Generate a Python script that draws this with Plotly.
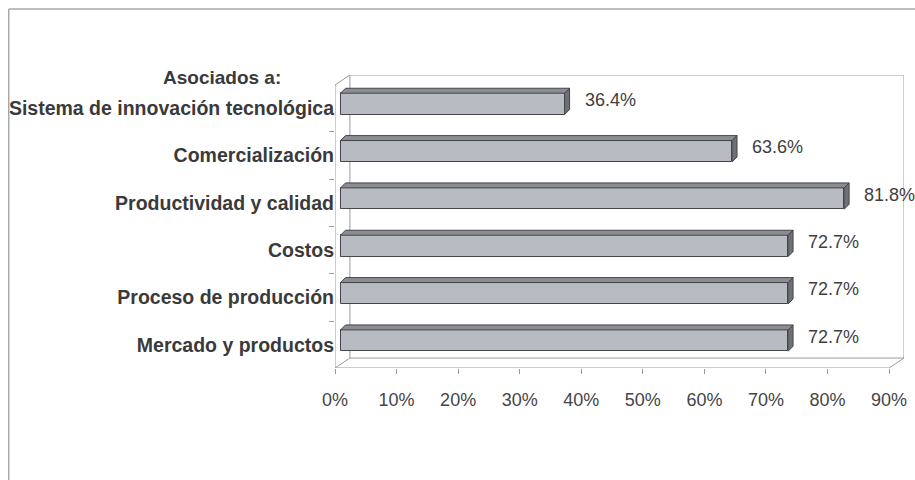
import plotly.graph_objects as go

# ---- data (bottom to top) ----
categories = ["Mercado y productos", "Proceso de producción", "Costos",
              "Productividad y calidad", "Comercialización",
              "Sistema de innovación tecnológica"]
values = [72.7, 72.7, 72.7, 81.8, 63.6, 36.4]
value_labels = ["72.7%", "72.7%", "72.7%", "81.8%", "63.6%", "36.4%"]
x_tick_vals = [0, 10, 20, 30, 40, 50, 60, 70, 80, 90]
x_tick_text = ["0%", "10%", "20%", "30%", "40%", "50%", "60%", "70%", "80%", "90%"]
axis_title = "Asociados a:"

# ---- style / projection constants ----
X_MAX = 90
WALL_DX = 2.42      # depth offset of back wall (x units)
WALL_DY = 0.21      # depth offset of back wall (y units)
Y_LO, Y_HI = -0.49, 5.70
BAR_DX, BAR_DY = 0.9, 0.09
BAR_H = 0.45
TOP_DX, TOP_DY = 0.8, 0.105
FRONT = "#b8bbc2"
TOP = "#8c8d93"
SIDE = "#6f7076"
EDGE = "#45464c"
WALLC = "#9a9a9a"
TXT = "#3a3a3a"
FONT = "Liberation Sans, Arial, sans-serif"

ypos = list(range(len(categories)))

fig = go.Figure()
fig.add_trace(go.Bar(
    orientation="h", y=[p + BAR_DY for p in ypos], x=values, base=BAR_DX,
    width=BAR_H, marker=dict(color=FRONT, line=dict(color=EDGE, width=1)),
    hoverinfo="skip", showlegend=False))

shapes = []
# walls / floor
shapes.append(dict(type="path", xref="x", yref="y",
                   path=f"M {WALL_DX},{Y_LO+WALL_DY} L {WALL_DX},{Y_HI} L {X_MAX+WALL_DX},{Y_HI} L {X_MAX+WALL_DX},{Y_LO+WALL_DY}",
                   line=dict(color=WALLC, width=1), layer="below"))
shapes.append(dict(type="path", xref="x", yref="y",
                   path=f"M 0,{Y_LO} L {X_MAX},{Y_LO} L {X_MAX+WALL_DX},{Y_LO+WALL_DY} L {WALL_DX},{Y_LO+WALL_DY} Z",
                   line=dict(color=WALLC, width=1), layer="below"))
shapes.append(dict(type="path", xref="x", yref="y",
                   path=f"M 0,{Y_LO} L 0,{Y_HI-WALL_DY} L {WALL_DX},{Y_HI}",
                   line=dict(color=WALLC, width=1), layer="below"))
# 3D faces of bars
for p, v in zip(ypos, values):
    yb = p + BAR_DY - BAR_H / 2
    yt = p + BAR_DY + BAR_H / 2
    x0 = BAR_DX
    x1 = BAR_DX + v
    shapes.append(dict(type="path", xref="x", yref="y",
                       path=f"M {x0},{yt} L {x0+TOP_DX},{yt+TOP_DY} L {x1+TOP_DX},{yt+TOP_DY} L {x1},{yt} Z",
                       fillcolor=TOP, line=dict(color=EDGE, width=1)))
    shapes.append(dict(type="path", xref="x", yref="y",
                       path=f"M {x1},{yb} L {x1},{yt} L {x1+TOP_DX},{yt+TOP_DY} L {x1+TOP_DX},{yb+TOP_DY} Z",
                       fillcolor=SIDE, line=dict(color=EDGE, width=1)))
# outer frame (scan border)
shapes.append(dict(type="line", xref="paper", yref="paper", x0=-0.5734, x1=1.02,
                   y0=1.2253, y1=1.2253, line=dict(color="#a8a8a8", width=1.5)))
shapes.append(dict(type="line", xref="paper", yref="paper", x0=-0.5734, x1=-0.5734,
                   y0=1.2253, y1=-0.40, line=dict(color="#a8a8a8", width=1.5)))

annotations = []
for p, v, t in zip(ypos, values, value_labels):
    annotations.append(dict(x=BAR_DX + v + TOP_DX, y=p + BAR_DY, text=t,
                            xref="x", yref="y", xanchor="left", yanchor="middle",
                            xshift=13, yshift=4, showarrow=False,
                            font=dict(family=FONT, size=18, color="#3e3e3e")))
annotations.append(dict(x=-0.199, y=0.99, xref="paper", yref="paper", text=axis_title,
                        showarrow=False, xanchor="center", yanchor="middle",
                        font=dict(family=FONT, size=19, color=TXT, weight="bold")))

fig.update_layout(
    width=915, height=480,
    margin=dict(l=335, r=8, t=75, b=112),
    paper_bgcolor="white", plot_bgcolor="white",
    shapes=shapes, annotations=annotations, bargap=0,
    xaxis=dict(range=[0, X_MAX + WALL_DX], tickvals=x_tick_vals, ticktext=x_tick_text,
               ticks="outside", ticklen=5, tickcolor=WALLC, showgrid=False,
               zeroline=False, showline=False, ticklabelstandoff=10,
               tickfont=dict(family=FONT, size=18, color="#454545"), fixedrange=True),
    yaxis=dict(range=[Y_LO, Y_HI], tickvals=ypos, ticktext=categories,
               ticks="", showgrid=False, zeroline=False, showline=False,
               minor=dict(tickvals=[p + 0.5 for p in ypos[:-1]], ticks="outside",
                          ticklen=5, tickcolor=WALLC, showgrid=False),
               tickfont=dict(family=FONT, size=19.5, color=TXT, weight="bold"),
               fixedrange=True),
)

fig.write_html("out.html")
